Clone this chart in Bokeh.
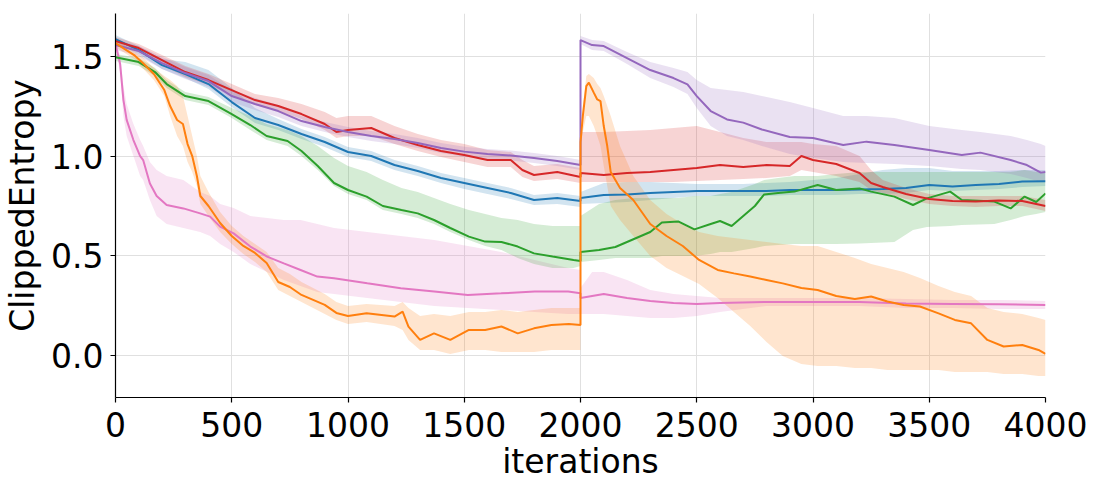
from bokeh.plotting import figure
from bokeh.embed import file_html
from bokeh.resources import INLINE
from bokeh.models import FixedTicker, PrintfTickFormatter

# ---------------- data ----------------
blue_x = [0,100,200,300,400,500,600,700,800,900,1000,1100,1200,1300,1400,1500,1600,1700,1800,1900,2000,
          2000,2100,2200,2300,2400,2500,2600,2700,2800,2900,3000,3100,3200,3300,3400,3500,3600,3700,3800,3900,4000]
blue_y = [1.585,1.53,1.455,1.41,1.36,1.27,1.19,1.155,1.11,1.07,1.02,1.0,0.955,0.925,0.89,0.865,0.84,0.815,0.78,0.79,0.775,
          0.79,0.805,0.808,0.815,0.82,0.825,0.825,0.825,0.825,0.83,0.83,0.83,0.833,0.835,0.84,0.855,0.848,0.855,0.86,0.872,0.874]
blue_hi = [1.605,1.55,1.485,1.47,1.43,1.34,1.24,1.185,1.135,1.095,1.045,1.025,0.98,0.95,0.915,0.89,0.865,0.84,0.805,0.815,0.80,
           0.82,0.865,0.87,0.87,0.865,0.86,0.86,0.86,0.865,0.87,0.88,0.89,0.91,0.93,0.94,0.94,0.925,0.925,0.925,0.93,0.93]
blue_lo = [1.565,1.51,1.435,1.39,1.335,1.245,1.165,1.13,1.085,1.045,0.995,0.975,0.93,0.9,0.865,0.835,0.81,0.785,0.755,0.76,0.745,
           0.76,0.765,0.77,0.78,0.79,0.8,0.8,0.8,0.8,0.805,0.805,0.805,0.81,0.81,0.815,0.83,0.825,0.83,0.835,0.845,0.85]

red_x = [0,100,200,300,400,500,600,700,800,900,950,1000,1100,1200,1300,1400,1500,1600,1700,1750,1800,1900,2000,
         2000,2100,2200,2300,2400,2500,2600,2700,2800,2900,2950,3000,3100,3200,3250,3300,3400,3500,3600,3700,3800,3900,4000]
red_y = [1.575,1.54,1.48,1.42,1.38,1.33,1.28,1.25,1.21,1.16,1.12,1.13,1.14,1.09,1.055,1.025,1.005,0.98,0.98,0.93,0.905,0.92,0.895,
         0.915,0.905,0.915,0.92,0.93,0.94,0.955,0.945,0.955,0.95,1.0,0.98,0.96,0.915,0.865,0.845,0.81,0.785,0.775,0.772,0.778,0.775,0.75]
red_hi = [1.595,1.56,1.505,1.45,1.41,1.36,1.31,1.29,1.26,1.22,1.19,1.2,1.2,1.15,1.11,1.08,1.06,1.03,1.02,0.98,0.95,0.96,0.94,
          1.12,1.12,1.125,1.13,1.14,1.15,1.12,1.09,1.07,1.07,1.07,1.06,1.05,1.0,0.93,0.88,0.84,0.81,0.8,0.8,0.8,0.8,0.78]
red_lo = [1.555,1.52,1.455,1.395,1.355,1.305,1.255,1.225,1.185,1.13,1.09,1.1,1.1,1.06,1.025,0.995,0.97,0.945,0.945,0.895,0.875,0.885,0.865,
          0.87,0.87,0.87,0.87,0.87,0.875,0.88,0.885,0.89,0.9,0.93,0.92,0.9,0.87,0.83,0.815,0.785,0.76,0.75,0.745,0.75,0.75,0.725]

purple_x = [0,100,200,300,400,500,600,700,800,900,1000,1100,1200,1300,1400,1500,1600,1700,1800,1900,2000,
            2000,2050,2100,2200,2300,2400,2460,2500,2560,2630,2700,2780,2900,3000,3130,3230,3350,3500,3640,3720,3850,3920,3980,4000]
purple_y = [1.555,1.525,1.465,1.415,1.375,1.3,1.26,1.225,1.175,1.145,1.12,1.1,1.085,1.065,1.04,1.022,1.01,1.003,0.99,0.975,0.955,
            1.58,1.555,1.55,1.49,1.43,1.39,1.358,1.3,1.225,1.183,1.167,1.133,1.095,1.09,1.055,1.072,1.055,1.03,1.005,1.017,0.98,0.955,0.917,0.92]
purple_hi = [1.58,1.55,1.495,1.445,1.405,1.33,1.29,1.255,1.2,1.17,1.145,1.125,1.11,1.09,1.065,1.047,1.035,1.028,1.015,1.0,0.98,
             1.6,1.58,1.575,1.52,1.47,1.44,1.42,1.38,1.34,1.33,1.32,1.3,1.27,1.24,1.2,1.2,1.19,1.15,1.13,1.12,1.1,1.08,1.06,1.05]
purple_lo = [1.53,1.5,1.435,1.385,1.345,1.27,1.23,1.195,1.15,1.12,1.095,1.075,1.06,1.04,1.015,0.997,0.985,0.978,0.965,0.95,0.93,
             1.56,1.53,1.525,1.46,1.39,1.345,1.31,1.24,1.15,1.1,1.08,1.05,1.01,0.99,0.97,0.965,0.96,0.95,0.935,0.93,0.91,0.89,0.87,0.87]

green_x = [0,100,170,220,300,400,500,580,650,740,800,870,940,1000,1080,1150,1230,1300,1370,1440,1520,1590,1660,1730,1800,1880,1970,2000,
           2000,2080,2150,2230,2300,2350,2420,2490,2560,2600,2650,2700,2750,2790,2850,2920,3020,3100,3200,3250,3350,3430,3490,3590,3640,3780,3850,3910,3960,4000]
green_y = [1.494,1.47,1.42,1.36,1.3,1.275,1.21,1.155,1.1,1.075,1.025,0.95,0.865,0.83,0.797,0.75,0.73,0.713,0.68,0.64,0.597,0.572,0.57,0.547,0.513,0.497,0.48,0.475,
           0.52,0.53,0.545,0.585,0.62,0.667,0.673,0.633,0.66,0.675,0.65,0.7,0.75,0.808,0.815,0.822,0.855,0.83,0.838,0.822,0.797,0.755,0.788,0.822,0.78,0.772,0.738,0.797,0.77,0.813]
green_hi = [1.51,1.49,1.44,1.38,1.32,1.295,1.24,1.2,1.16,1.13,1.1,1.05,0.99,0.95,0.92,0.88,0.84,0.82,0.79,0.76,0.73,0.71,0.69,0.68,0.66,0.65,0.65,0.65,
            0.7,0.76,0.78,0.79,0.79,0.79,0.79,0.8,0.8,0.81,0.82,0.84,0.86,0.88,0.89,0.9,0.9,0.91,0.92,0.92,0.92,0.92,0.92,0.92,0.92,0.92,0.92,0.93,0.92,0.92]
green_lo = [1.475,1.45,1.4,1.34,1.28,1.255,1.19,1.13,1.08,1.05,1.0,0.93,0.85,0.81,0.78,0.73,0.71,0.69,0.66,0.62,0.58,0.55,0.53,0.49,0.46,0.44,0.44,0.45,
            0.47,0.48,0.49,0.49,0.49,0.5,0.5,0.5,0.51,0.52,0.52,0.53,0.54,0.55,0.555,0.56,0.56,0.56,0.563,0.565,0.57,0.63,0.645,0.65,0.655,0.66,0.68,0.7,0.71,0.72]

orange_x = [0,80,120,165,210,235,265,290,310,330,350,365,400,450,500,550,600,650,700,750,800,850,900,950,1000,1080,1200,1235,1260,1310,1370,1440,1520,1590,1660,1730,1800,1875,1950,2000,
            2000,2010,2025,2036,2057,2072,2086,2100,2115,2130,2170,2227,2300,2370,2440,2510,2590,2660,2730,2800,2870,2950,3020,3100,3180,3250,3320,3390,3460,3540,3610,3680,3750,3820,3900,3970,4000]
orange_y = [1.565,1.505,1.463,1.41,1.33,1.25,1.18,1.16,1.06,1.0,0.9,0.8,0.75,0.665,0.6,0.55,0.515,0.465,0.37,0.345,0.305,0.28,0.255,0.215,0.2,0.213,0.197,0.222,0.147,0.08,0.113,0.08,0.13,0.13,0.147,0.113,0.138,0.155,0.16,0.155,
            1.07,1.2,1.35,1.367,1.317,1.283,1.275,1.15,1.05,0.92,0.84,0.78,0.66,0.6,0.55,0.48,0.43,0.413,0.397,0.38,0.363,0.34,0.33,0.3,0.285,0.297,0.272,0.255,0.247,0.213,0.18,0.163,0.08,0.047,0.055,0.03,0.01]
orange_hi = [1.585,1.525,1.49,1.44,1.4,1.38,1.35,1.3,1.2,1.1,1.0,0.9,0.82,0.72,0.65,0.6,0.56,0.52,0.44,0.41,0.37,0.34,0.31,0.27,0.25,0.26,0.25,0.27,0.24,0.2,0.21,0.2,0.22,0.22,0.23,0.22,0.23,0.24,0.24,0.24,
             1.1,1.25,1.4,1.41,1.39,1.36,1.34,1.3,1.25,1.2,1.05,0.9,0.78,0.71,0.66,0.62,0.6,0.59,0.58,0.57,0.56,0.55,0.55,0.52,0.49,0.46,0.44,0.42,0.39,0.35,0.32,0.3,0.24,0.22,0.21,0.19,0.18]
orange_lo = [1.545,1.485,1.435,1.38,1.3,1.2,1.1,1.05,0.97,0.92,0.85,0.76,0.7,0.62,0.56,0.51,0.47,0.42,0.33,0.3,0.27,0.24,0.21,0.18,0.16,0.17,0.15,0.13,0.08,0.03,0.03,0.01,0.03,0.03,0.02,0.02,0.02,0.03,0.03,0.03,
             1.03,1.12,1.2,1.2,1.15,1.1,1.05,0.95,0.85,0.75,0.68,0.6,0.5,0.44,0.4,0.36,0.29,0.22,0.15,0.07,0.0,-0.04,-0.05,-0.05,-0.06,-0.06,-0.07,-0.07,-0.07,-0.07,-0.08,-0.08,-0.08,-0.09,-0.09,-0.1,-0.1]

pink_x = [0,20,34,48,77,106,119,148,177,220,292,364,407,450,508,580,652,724,796,868,940,1083,1227,1371,1515,1659,1803,1947,2000,
          2000,2050,2100,2200,2300,2400,2500,2600,2800,3000,3200,3400,3600,3800,4000]
pink_y = [1.56,1.46,1.281,1.181,1.08,1.0,0.98,0.863,0.8,0.755,0.738,0.713,0.697,0.647,0.613,0.547,0.497,0.463,0.43,0.397,0.388,0.363,0.338,0.322,0.305,0.313,0.322,0.322,0.313,
          0.29,0.3,0.31,0.29,0.275,0.265,0.26,0.265,0.27,0.27,0.27,0.262,0.26,0.258,0.255]
pink_hi = [1.58,1.5,1.35,1.26,1.16,1.08,1.05,0.97,0.93,0.9,0.88,0.82,0.8,0.76,0.74,0.7,0.69,0.68,0.68,0.66,0.64,0.62,0.6,0.58,0.55,0.52,0.48,0.44,0.43,
           0.34,0.42,0.42,0.38,0.33,0.31,0.3,0.29,0.29,0.29,0.29,0.285,0.28,0.28,0.275]
pink_lo = [1.54,1.42,1.2,1.1,1.0,0.9,0.88,0.78,0.7,0.66,0.64,0.62,0.6,0.56,0.52,0.46,0.42,0.38,0.35,0.32,0.31,0.29,0.27,0.25,0.24,0.23,0.22,0.21,0.21,
           0.21,0.21,0.21,0.2,0.19,0.19,0.2,0.22,0.25,0.25,0.25,0.24,0.24,0.235,0.235]

x_ticks = [0, 500, 1000, 1500, 2000, 2500, 3000, 3500, 4000]
y_ticks = [0.0, 0.5, 1.0, 1.5]
x_label = "iterations"
y_label = "ClippedEntropy"

FONT = "DejaVu Sans"

p = figure(width=1090, height=483, x_range=(0, 4000), y_range=(-0.208, 1.713),
           output_backend="svg", toolbar_location=None,
           min_border_left=115, min_border_right=45, min_border_top=13, min_border_bottom=85)
p.outline_line_color = None
p.background_fill_color = "white"

series = [
    ("#e377c2", pink_x, pink_y, pink_lo, pink_hi),
    ("#1f77b4", blue_x, blue_y, blue_lo, blue_hi),
    ("#2ca02c", green_x, green_y, green_lo, green_hi),
    ("#d62728", red_x, red_y, red_lo, red_hi),
    ("#9467bd", purple_x, purple_y, purple_lo, purple_hi),
    ("#ff7f0e", orange_x, orange_y, orange_lo, orange_hi),
]
for c, xs, ys, lo, hi in series:
    p.varea(x=xs, y1=lo, y2=hi, fill_color=c, fill_alpha=0.2)
for c, xs, ys, lo, hi in series:
    p.line(xs, ys, line_color=c, line_width=2)

p.xaxis.ticker = FixedTicker(ticks=x_ticks)
p.yaxis.ticker = FixedTicker(ticks=y_ticks)
p.yaxis.formatter = PrintfTickFormatter(format="%.1f")
p.xaxis.axis_label = x_label
p.yaxis.axis_label = y_label

for ax in (p.xaxis, p.yaxis):
    ax.axis_line_color = "black"
    ax.axis_line_width = 1.2
    ax.major_tick_line_color = "black"
    ax.major_tick_line_width = 1.2
    ax.major_tick_out = 5
    ax.major_tick_in = 0
    ax.minor_tick_line_color = None
    ax.major_label_text_font = FONT
    ax.major_label_text_font_size = "33px"
    ax.major_label_text_color = "black"
    ax.axis_label_text_font = FONT
    ax.axis_label_text_font_size = "33px"
    ax.axis_label_text_font_style = "normal"
    ax.axis_label_text_color = "black"

p.xaxis.major_label_standoff = 9
p.yaxis.major_label_standoff = 7
p.xaxis.axis_label_standoff = 2
p.yaxis.axis_label_standoff = 6

p.xgrid.grid_line_color = "#e0e0e0"
p.ygrid.grid_line_color = "#e0e0e0"
p.xgrid.grid_line_width = 1
p.ygrid.grid_line_width = 1

open("out.html", "w").write(file_html(p, INLINE))
